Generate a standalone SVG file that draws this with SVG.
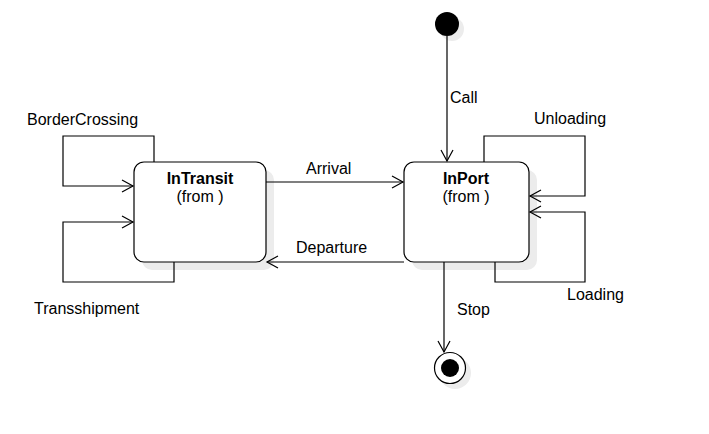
<svg xmlns="http://www.w3.org/2000/svg" width="709" height="434" viewBox="0 0 709 434">
<defs>
<marker id="arr" markerWidth="14" markerHeight="14" refX="12" refY="7" orient="auto" markerUnits="userSpaceOnUse">
<path d="M1,1 L12,7 L1,13" fill="none" stroke="#000" stroke-width="1.2"/>
</marker>
</defs>
<style>
.txt{font-family:"Liberation Sans",Arial,sans-serif;font-size:16px;fill:#000}
.b{font-weight:bold}
.st{fill:#fff;stroke:#000;stroke-width:1.2}
.sh{fill:#ececec;stroke:none}
.ln{fill:none;stroke:#000;stroke-width:1.2}
</style>
<rect width="709" height="434" fill="#fff"/>
<g id="initial">
<circle class="sh" cx="452" cy="29" r="12"/>
<circle cx="447" cy="24" r="12" fill="#000"/>
</g>
<g id="InTransit">
<rect class="sh" x="142" y="170" width="132" height="100" rx="10"/>
<rect class="st" x="134" y="162" width="132" height="100" rx="10"/>
<text class="txt b" x="200" y="184" text-anchor="middle">InTransit</text>
<text class="txt" x="200" y="202" text-anchor="middle">(from )</text>
</g>
<g id="InPort">
<rect class="sh" x="412" y="170" width="125" height="100" rx="10"/>
<rect class="st" x="404" y="162" width="125" height="100" rx="10"/>
<text class="txt b" x="466" y="184" text-anchor="middle">InPort</text>
<text class="txt" x="466" y="202" text-anchor="middle">(from )</text>
</g>
<g id="final">
<circle class="sh" cx="455" cy="373" r="16"/>
<circle class="st" cx="450" cy="368" r="15.5"/>
<circle cx="450" cy="368" r="9" fill="#000"/>
</g>
<g id="connectors">
<path class="ln" d="M447,36 L447,161" marker-end="url(#arr)"/>
<text class="txt" x="450" y="103">Call</text>
<path class="ln" d="M266,182 L403,182" marker-end="url(#arr)"/>
<text class="txt" x="306" y="174">Arrival</text>
<path class="ln" d="M404,262 L267,262" marker-end="url(#arr)"/>
<text class="txt" x="296" y="253">Departure</text>
<path class="ln" d="M154,162 L154,136 L63,136 L63,186 L133,186" marker-end="url(#arr)"/>
<text class="txt" x="27" y="125">BorderCrossing</text>
<path class="ln" d="M174,262 L174,282 L63,282 L63,222 L133,222" marker-end="url(#arr)"/>
<text class="txt" x="34" y="314">Transshipment</text>
<path class="ln" d="M484,162 L484,136 L585,136 L585,196 L530,196" marker-end="url(#arr)"/>
<text class="txt" x="534" y="124">Unloading</text>
<path class="ln" d="M495,262 L495,282 L585,282 L585,212 L530,212" marker-end="url(#arr)"/>
<text class="txt" x="567" y="300">Loading</text>
<path class="ln" d="M444,262 L444,352" marker-end="url(#arr)"/>
<text class="txt" x="457" y="315">Stop</text>
</g>
</svg>
